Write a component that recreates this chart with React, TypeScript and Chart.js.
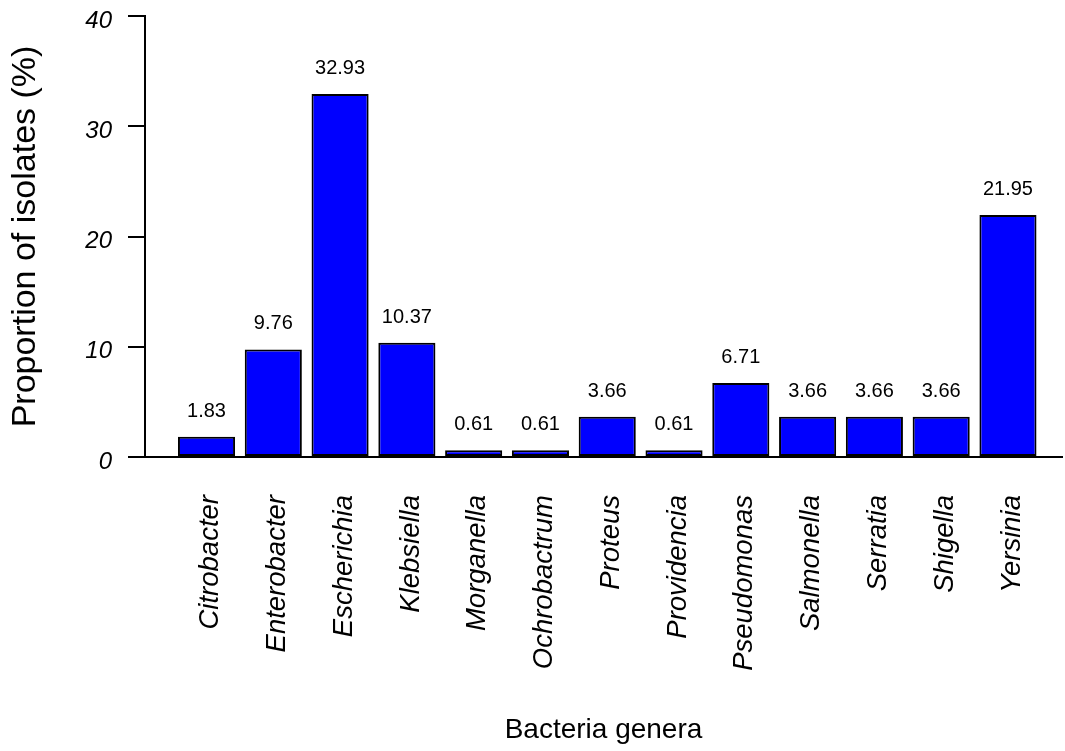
import React, { useEffect, useRef } from "react";
import { Chart, registerables } from "chart.js";

Chart.register(...registerables);

const categories = [
  "Citrobacter",
  "Enterobacter",
  "Escherichia",
  "Klebsiella",
  "Morganella",
  "Ochrobactrum",
  "Proteus",
  "Providencia",
  "Pseudomonas",
  "Salmonella",
  "Serratia",
  "Shigella",
  "Yersinia",
];

const proportions = [1.83, 9.76, 32.93, 10.37, 0.61, 0.61, 3.66, 0.61, 6.71, 3.66, 3.66, 3.66, 21.95];

const valueLabels = ["1.83", "9.76", "32.93", "10.37", "0.61", "0.61", "3.66", "0.61", "6.71", "3.66", "3.66", "3.66", "21.95"];

const yTicks = [0, 10, 20, 30, 40];

const FONT = "'Liberation Sans', Arial, Helvetica, sans-serif";

const valueLabelPlugin = {
  id: "valueLabels",
  afterDatasetsDraw(chart: any) {
    const ctx = chart.ctx;
    const meta = chart.getDatasetMeta(0);
    ctx.save();
    ctx.font = `20px ${FONT}`;
    ctx.fillStyle = "#000";
    ctx.textAlign = "center";
    ctx.textBaseline = "alphabetic";
    meta.data.forEach((bar: any, i: number) => {
      ctx.fillText(valueLabels[i], bar.x, bar.y - 20);
    });
    ctx.restore();
  },
};

export default function App() {
  const canvasRef = useRef<HTMLCanvasElement | null>(null);

  useEffect(() => {
    if (!canvasRef.current) return;
    const chart = new Chart(canvasRef.current, {
      type: "bar",
      data: {
        datasets: [
          {
            data: proportions.map((v, i) => ({ x: i, y: v })),
            backgroundColor: "#0000FF",
            borderColor: "#000000",
            borderWidth: 2,
            borderSkipped: false,
            categoryPercentage: 1,
            barPercentage: 0.855,
          },
        ],
      },
      options: {
        responsive: false,
        animation: false,
        layout: { padding: { top: 16, right: 3, left: 0, bottom: 0 } },
        plugins: {
          legend: { display: false },
          tooltip: { enabled: false },
        },
        scales: {
          x: {
            type: "linear",
            offset: false,
            min: -0.921,
            max: 12.809,
            afterFit: (scale: any) => {
              scale.height = 294;
              scale.paddingLeft = 0;
              scale.paddingRight = 0;
            },
            afterBuildTicks: (scale: any) => {
              scale.ticks = categories.map((_, i) => ({ value: i }));
            },
            grid: { display: false, drawTicks: false, offset: false },
            border: { display: true, color: "#000", width: 2 },
            ticks: {
              autoSkip: false,
              minRotation: 90,
              maxRotation: 90,
              padding: 38,
              labelOffset: 4,
              color: "#000",
              font: { family: FONT, size: 27.5, style: "italic" },
              callback: (value: any) => categories[value] ?? "",
            },
            title: {
              display: true,
              text: "Bacteria genera",
              color: "#000",
              font: { family: FONT, size: 28 },
              padding: { top: 0, bottom: 4 },
            },
          },
          y: {
            type: "linear",
            min: 0,
            max: 40,
            afterFit: (scale: any) => {
              scale.width = 145;
              scale.paddingTop = 0;
              scale.paddingBottom = 0;
            },
            afterBuildTicks: (scale: any) => {
              scale.ticks = yTicks.map((v) => ({ value: v }));
            },
            grid: {
              display: true,
              drawOnChartArea: false,
              drawTicks: true,
              tickLength: 17,
              color: "#000",
              lineWidth: 2,
            },
            border: { display: true, color: "#000", width: 2 },
            ticks: {
              padding: 16,
              labelOffset: 5,
              color: "#000",
              font: { family: FONT, size: 24, style: "italic" },
            },
            title: {
              display: true,
              text: "Proportion of isolates (%)",
              color: "#000",
              font: { family: FONT, size: 34 },
              padding: { top: 5, bottom: 0 },
            },
          },
        },
      },
      plugins: [valueLabelPlugin],
    });
    return () => chart.destroy();
  }, []);

  return (
    <div style={{ position: "fixed", left: 0, top: 0, width: 1065, height: 751, background: "#fff" }}>
      <canvas ref={canvasRef} width={1065} height={751} />
    </div>
  );
}
